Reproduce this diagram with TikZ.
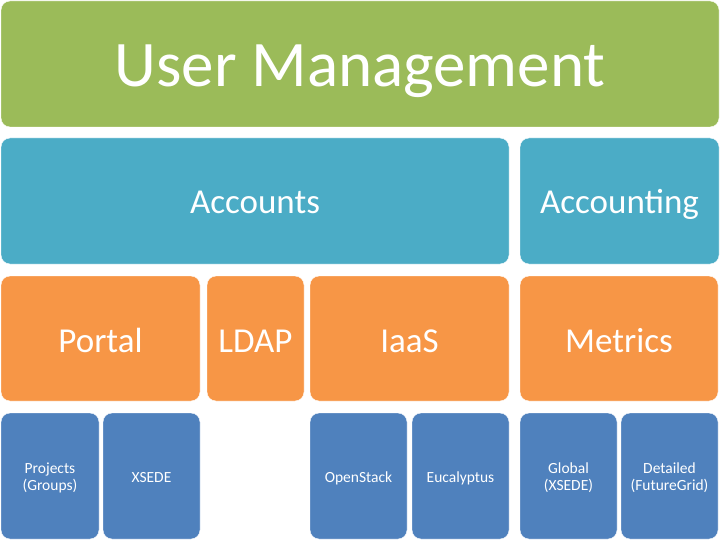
\documentclass[tikz,border=0pt]{standalone}
\usepackage{fontspec}
\setmainfont{Carlito}
\definecolor{ugreen}{HTML}{9BBB59}
\definecolor{uteal}{HTML}{4BACC6}
\definecolor{uorange}{HTML}{F79646}
\definecolor{ublue}{HTML}{4F81BD}
\newcommand{\twolines}[2]{\begin{tabular}[t]{@{}c@{}}#1\\#2\end{tabular}}
\tikzset{
  box/.style={rectangle, rounded corners=9pt, inner sep=0pt, outer sep=0pt,
    draw=white, line width=0.4pt, text=white, align=center},
  huge/.style={font=\fontsize{65}{78}\selectfont, text depth=0pt, text height=46pt},
  big/.style={font=\fontsize{35}{42}\selectfont, text depth=0pt, text height=26pt},
  bigo/.style={font=\fontsize{35}{42}\selectfont, text depth=0pt, text height=27pt},
  smallone/.style={font=\fontsize{15.5}{17}\selectfont, text depth=0pt, text height=12pt},
  smalltwo/.style={font=\fontsize{15.5}{17}\selectfont, text depth=16pt, text height=10pt},
}
\begin{document}
\begin{tikzpicture}[x=1pt,y=-1pt]
\useasboundingbox (0,0) rectangle (720,540);
\node[box, huge, fill=ugreen, minimum width=718pt, minimum height=126pt] (um) at (360,64) {User Management};
\node[box, big, fill=uteal, minimum width=508pt, minimum height=126pt] (acc) at (255,201) {Accounts};
\node[box, big, fill=uteal, minimum width=199pt, minimum height=126pt] (acct) at (619.5,201) {Accounting};
\node[box, bigo, fill=uorange, minimum width=199pt, minimum height=125pt] (portal) at (100.5,338.5) {Portal};
\node[box, bigo, fill=uorange, minimum width=97pt, minimum height=125pt] (ldap) at (255.5,338.5) {LDAP};
\node[box, bigo, fill=uorange, minimum width=199pt, minimum height=125pt] (iaas) at (409.5,338.5) {IaaS};
\node[box, bigo, fill=uorange, minimum width=198pt, minimum height=125pt] (metrics) at (619,338.5) {Metrics};
\node[box, smalltwo, fill=ublue, minimum width=98pt, minimum height=126pt] (proj) at (50,476) {\twolines{Projects}{(Groups)}};
\node[box, smallone, fill=ublue, minimum width=97pt, minimum height=126pt] (xsede) at (151.5,476) {XSEDE};
\node[box, smallone, fill=ublue, minimum width=97pt, minimum height=126pt] (os) at (358.5,476) {OpenStack};
\node[box, smallone, fill=ublue, minimum width=97pt, minimum height=126pt] (euca) at (460.5,476) {Eucalyptus};
\node[box, smalltwo, fill=ublue, minimum width=97pt, minimum height=126pt] (glob) at (568.5,476) {\twolines{Global}{(XSEDE)}};
\node[box, smalltwo, fill=ublue, minimum width=97pt, minimum height=126pt] (det) at (669.5,476) {\twolines{Detailed}{(FutureGrid)}};
\end{tikzpicture}
\end{document}
